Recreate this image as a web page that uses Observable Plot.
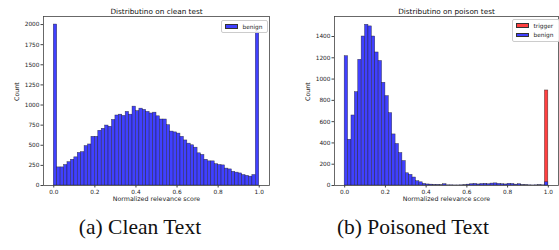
<!DOCTYPE html>
<html>
<head>
<meta charset="utf-8">
<script src="https://cdn.jsdelivr.net/npm/d3@7"></script>
<script src="https://cdn.jsdelivr.net/npm/@observablehq/plot@0.6"></script>
<style>
  html, body { margin: 0; padding: 0; background: #fff; }
  #wrap { position: relative; width: 559px; height: 250px; overflow: hidden; font-family: "DejaVu Sans", sans-serif; }
  .panel { position: absolute; top: 0; }
  .cap { position: absolute; font-family: "Liberation Serif", "Times New Roman", serif; font-size: 21.5px; color: #111; white-space: nowrap; transform: translateX(-50%); }
  .legend { position: absolute; background: rgba(255,255,255,0.9); border: 0.8px solid #ccc; border-radius: 2px; font-size: 5.8px; color: #222; }
  .legend .row { position: absolute; display: flex; align-items: center; white-space: nowrap; }
  .legend .sw { width: 13px; height: 4.5px; margin-right: 5px; border: 0.5px solid #333; box-sizing: border-box; }
</style>
</head>
<body>
<div id="wrap"></div>
<script>
// ---- data (60 equal-width bins over [0, 1]) ----
const nBins = 60;
const cleanTitle = "Distributino on clean test";
const poisonTitle = "Distributino on poison test";
const xLabel = "Normalized relevance score";
const yLabel = "Count";
const xTicks = [0, 0.2, 0.4, 0.6, 0.8, 1.0];
const cleanYTicks = [0, 250, 500, 750, 1000, 1250, 1500, 1750, 2000];
const poisonYTicks = [0, 200, 400, 600, 800, 1000, 1200, 1400];

const cleanBenign = [2000,225,225,255,290,320,350,405,415,490,510,605,605,680,705,745,730,815,870,880,
  865,915,880,980,925,955,940,915,895,905,860,820,820,750,670,660,645,605,560,520,
  500,470,400,380,320,300,300,265,255,250,210,200,170,160,150,130,120,110,130,1910];

const poisonBenign = [1215,430,658,877,1181,1400,1510,1495,1400,1250,1170,965,840,680,480,390,305,230,115,100,
  75,40,30,15,10,8,5,5,3,12,2,2,1,1,2,3,8,12,15,10,
  14,16,12,18,20,15,12,10,16,14,8,12,4,3,2,1,2,3,2,30];

const poisonTriggerBins = [59];
const poisonTriggerCounts = [893];

const blue = "rgb(64,64,255)";
const red = "rgb(255,64,64)";

function bins(counts) {
  return counts.map((c, i) => ({x1: i / nBins, x2: (i + 1) / nBins, y: c}));
}
function binsAt(idx, counts) {
  return idx.map((i, k) => ({x1: i / nBins, x2: (i + 1) / nBins, y: counts[k]}));
}

function panel({title, series, yMax, yTicks, left, width, mL, mR}) {
  const marks = [];
  for (const s of series) {
    marks.push(Plot.rectY(s.data, {x1: "x1", x2: "x2", y: "y", fill: s.color, stroke: "#1a1a1a", strokeWidth: 0.5, strokeOpacity: 0.75, inset: 0}));
  }
  marks.push(
    Plot.frame({stroke: "#444", strokeWidth: 0.8}),
    Plot.axisX({ticks: xTicks, tickFormat: d3.format(".1f"), tickSize: 2.5, tickPadding: 1.5, fontSize: 5.8, label: null, stroke: "#444"}),
    Plot.axisY({ticks: yTicks, tickFormat: d => String(d), tickSize: 2.5, tickPadding: 1.5, fontSize: 5.8, label: null, stroke: "#444"}),
    Plot.text([title], {frameAnchor: "top", dy: -8, text: d => d, fontSize: 7.3, fill: "#111"}),
    Plot.text([xLabel], {frameAnchor: "bottom", dy: 15, text: d => d, fontSize: 6.3, fill: "#222"}),
    Plot.text([yLabel], {frameAnchor: "left", dx: -27, text: d => d, rotate: -90, fontSize: 6.3, fill: "#222"})
  );
  const svg = Plot.plot({
    width, height: 210,
    marginLeft: mL, marginRight: mR, marginTop: 16, marginBottom: 25,
    x: {domain: [-0.05, 1.05]},
    y: {domain: [0, yMax]},
    style: {fontFamily: "DejaVu Sans, sans-serif", fontSize: "5.8px", color: "#222", background: "transparent", overflow: "visible"},
    marks
  });
  const div = document.createElement("div");
  div.className = "panel";
  div.style.left = left + "px";
  div.appendChild(svg);
  return div;
}

const wrap = document.getElementById("wrap");

wrap.appendChild(panel({
  title: cleanTitle,
  series: [{data: bins(cleanBenign), color: blue}],
  yMax: 2100, yTicks: cleanYTicks, left: 0, width: 279, mL: 43, mR: 10
}));

wrap.appendChild(panel({
  title: poisonTitle,
  series: [
    {data: binsAt(poisonTriggerBins, poisonTriggerCounts), color: red},
    {data: bins(poisonBenign), color: blue}
  ],
  yMax: 1588, yTicks: poisonYTicks, left: 280, width: 279, mL: 54, mR: 1
}));

// legends
function legend(x, y, w, h, items) {
  const lg = document.createElement("div");
  lg.className = "legend";
  Object.assign(lg.style, {left: x + "px", top: y + "px", width: w + "px", height: h + "px"});
  items.forEach((it, i) => {
    const r = document.createElement("div");
    r.className = "row";
    Object.assign(r.style, {left: "2.5px", top: (2 + i * 9.5) + "px", height: "7px"});
    const sw = document.createElement("div");
    sw.className = "sw";
    sw.style.background = it.color;
    const t = document.createElement("span");
    t.textContent = it.label;
    r.appendChild(sw); r.appendChild(t);
    lg.appendChild(r);
  });
  wrap.appendChild(lg);
}
legend(221, 20, 45, 11, [{label: "benign", color: blue}]);
legend(512, 19, 46, 21, [{label: "trigger", color: red}, {label: "benign", color: blue}]);

// captions
function caption(text, cx, top) {
  const c = document.createElement("div");
  c.className = "cap";
  c.textContent = text;
  c.style.left = cx + "px";
  c.style.top = top + "px";
  wrap.appendChild(c);
}
caption("(a) Clean Text", 140, 215);
caption("(b) Poisoned Text", 413, 215);
</script>
</body>
</html>
